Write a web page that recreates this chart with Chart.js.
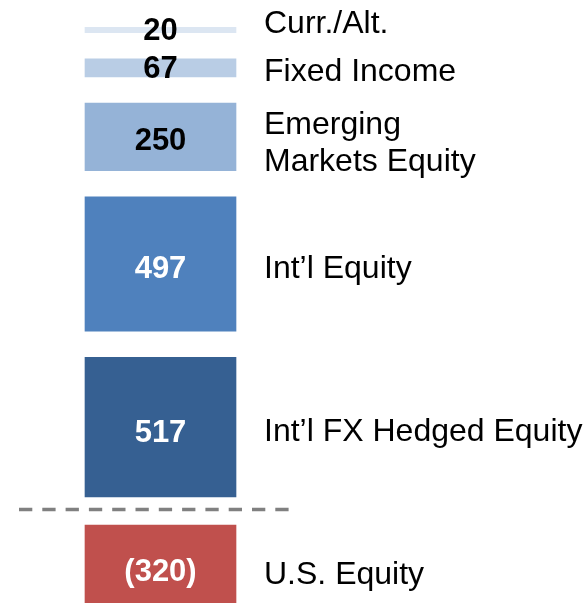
<!DOCTYPE html>
<html lang="en">
<head>
    <meta charset="UTF-8">
    <title>Allocation Flows</title>
    <script src="https://cdn.jsdelivr.net/npm/chart.js"></script>
    <style>
        html, body { margin: 0; padding: 0; background: #fff; }
        #wrap { width: 588px; height: 603px; }
    </style>
</head>
<body>
    <div id="wrap"><canvas id="flows"></canvas></div>

    <script>
        // Data, bottom to top
        const categories = ['U.S. Equity', 'Int\u2019l FX Hedged Equity', 'Int\u2019l Equity', ['Emerging', 'Markets Equity'], 'Fixed Income', 'Curr./Alt.'];
        const values = [-320, 517, 497, 250, 67, 20];

        // Styles
        const barColors = ['#c0504d', '#366092', '#4f81bd', '#95b3d7', '#b9cde5', '#dce6f2'];
        const valueColors = ['#ffffff', '#ffffff', '#ffffff', '#000000', '#000000', '#000000'];
        // small vertical nudges for the text (px), like the hand placed boxes in the deck
        const valueNudge = [2, 4, 3, 2, -1, -1];
        const labelNudge = [4, 2, 3, 4, 2, -8];

        const GAP = 97;        // space between stacked blocks (data units)
        const POS_OFFSET = 49; // first positive block starts above the zero line
        const NEG_OFFSET = 55; // negative blocks start below the zero line

        // Build floating ranges from the values
        let posTop = POS_OFFSET - GAP;
        let negBottom = -NEG_OFFSET + GAP;
        const ranges = values.map(v => {
            if (v >= 0) {
                const start = posTop + GAP;
                posTop = start + v;
                return [start, posTop];
            }
            const start = negBottom - GAP;
            negBottom = start + v;
            return [start, negBottom];
        });

        function fmt(v) {
            return v < 0 ? '(' + Math.abs(v) + ')' : String(v);
        }

        const FONT = "'Liberation Sans', Arial, sans-serif";

        // Labels inside the bars, category names on the right, dashed zero line
        const annotate = {
            id: 'annotate',
            afterDatasetsDraw(chart) {
                const ctx = chart.ctx;
                const y = chart.scales.y;
                ctx.save();

                // zero line
                const y0 = Math.round(y.getPixelForValue(0)) - 0.5;
                ctx.strokeStyle = '#808080';
                ctx.lineWidth = 3.5;
                ctx.setLineDash([13.3, 10]);
                ctx.beginPath();
                ctx.moveTo(19, y0);
                ctx.lineTo(289, y0);
                ctx.stroke();
                ctx.setLineDash([]);

                chart.data.datasets.forEach((ds, i) => {
                    const bar = chart.getDatasetMeta(i).data[0];
                    const top = Math.min(bar.y, bar.base);
                    const bottom = Math.max(bar.y, bar.base);
                    const mid = (top + bottom) / 2;

                    // value
                    ctx.font = 'bold 31px ' + FONT;
                    ctx.fillStyle = valueColors[i];
                    ctx.textAlign = 'center';
                    ctx.textBaseline = 'alphabetic';
                    ctx.fillText(fmt(values[i]), bar.x, mid + valueNudge[i] + 31 * 0.358);

                    // category name
                    const lines = Array.isArray(categories[i]) ? categories[i] : [categories[i]];
                    const lh = 37;
                    ctx.font = '32px ' + FONT;
                    ctx.fillStyle = '#000000';
                    ctx.textAlign = 'left';
                    lines.forEach((line, k) => {
                        const ly = mid + labelNudge[i] + (k - (lines.length - 1) / 2) * lh;
                        ctx.fillText(line, 264, ly + 32 * 0.358);
                    });
                });
                ctx.restore();
            }
        };

        new Chart(document.getElementById('flows'), {
            type: 'bar',
            data: {
                labels: [''],
                datasets: ranges.map((r, i) => ({
                    label: Array.isArray(categories[i]) ? categories[i].join(' ') : categories[i],
                    data: [r],
                    backgroundColor: barColors[i],
                    borderWidth: 0
                }))
            },
            options: {
                responsive: true,
                maintainAspectRatio: false,
                animation: false,
                barThickness: 151,
                layout: { padding: { left: 0, right: 267, top: 0, bottom: 0 } },
                plugins: {
                    legend: { display: false },
                    tooltip: { enabled: false }
                },
                scales: {
                    x: { display: false, stacked: true },
                    y: { display: false, min: -344, max: 1889 }
                }
            },
            plugins: [annotate]
        });
    </script>
</body>
</html>
